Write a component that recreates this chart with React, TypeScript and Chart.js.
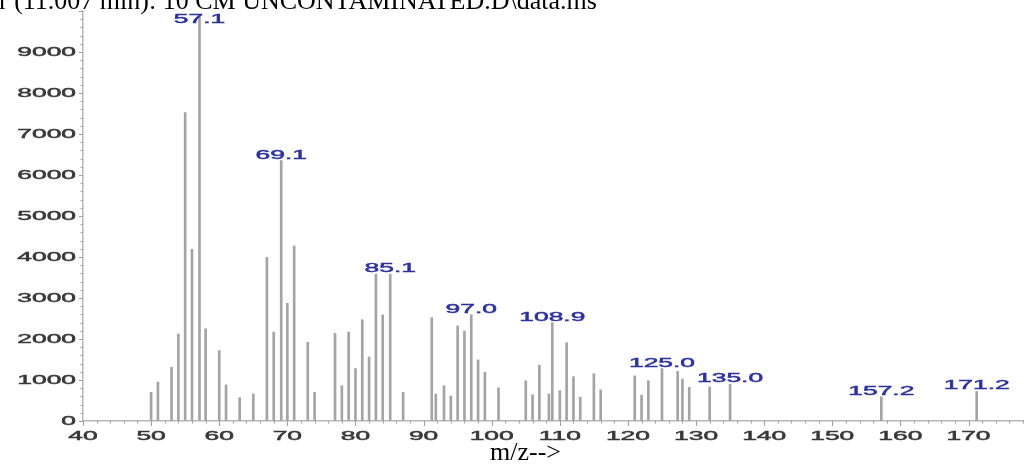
import React, { useEffect, useRef } from "react";
import { Chart, registerables } from "chart.js";

Chart.register(...registerables);

// Mass spectrum: ion m/z and abundance
const mzValues = [
  50, 51, 53, 54, 55, 56, 57.1, 58, 60, 61, 63, 65, 67, 68, 69.1, 70, 71, 73, 74,
  77, 78, 79, 80, 81, 82, 83, 84, 85.1, 87, 91.2, 91.8, 93, 94, 95, 96, 97.0, 98, 99,
  101, 105, 106, 107, 108.4, 108.9, 110, 111, 112, 113, 115, 116, 121, 122, 123,
  125.0, 127.3, 128, 129, 132, 135.0, 157.2, 171.2,
];
const abundances = [
  700, 950, 1310, 2120, 7520, 4190, 9850, 2250, 1720, 880, 570, 660, 3990, 2170, 6350, 2870, 4270, 1920, 700,
  2140, 860, 2170, 1280, 2470, 1560, 3580, 2590, 3580, 700, 2520, 660, 860, 610, 2320, 2190, 2590, 1490, 1190,
  810, 980, 640, 1360, 660, 2400, 740, 1910, 1080, 580, 1150, 760, 1100, 630, 980,
  1280, 1210, 1020, 820, 830, 900, 590, 720,
];
// Peaks annotated with their m/z
const labeledPeaks = [57.1, 69.1, 85.1, 97.0, 108.9, 125.0, 135.0, 157.2, 171.2];

const xTickLabels = ["40", "50", "60", "70", "80", "90", "100", "110", "120", "130", "140", "150", "160", "170"];
const yTickLabels = ["0", "1000", "2000", "3000", "4000", "5000", "6000", "7000", "8000", "9000"];

const headerText = "r (11.007 min): 10 CM UNCONTAMINATED.D\\data.ms";
const xAxisTitle = "m/z-->";

const TICK_FONT = "12px 'Liberation Sans', Arial, sans-serif";
const STRETCH = 2.2;

// Wide, slightly heavy label text
function stretchedText(ctx: CanvasRenderingContext2D, text: string, x: number, y: number, align: CanvasTextAlign) {
  ctx.save();
  ctx.translate(x, y);
  ctx.scale(STRETCH, 1);
  ctx.textAlign = align;
  ctx.textBaseline = "alphabetic";
  ctx.fillText(text, 0, 0);
  ctx.lineWidth = 0.45;
  ctx.strokeStyle = ctx.fillStyle as string;
  ctx.strokeText(text, 0, 0);
  ctx.restore();
}

const spectrumDecor = {
  id: "spectrumDecor",
  afterDraw(chart: any) {
    const { ctx, chartArea, scales } = chart;
    const xs = scales.x;
    const ys = scales.y;
    ctx.save();

    // tick marks
    ctx.strokeStyle = "#a0a0a0";
    ctx.lineWidth = 1;
    ctx.beginPath();
    for (let v = xs.min; v <= xs.max + 1e-6; v += 2) {
      const px = Math.round(xs.getPixelForValue(v)) + 0.5;
      const len = v % 10 === 0 ? 5 : 2.5;
      ctx.moveTo(px, chartArea.bottom);
      ctx.lineTo(px, chartArea.bottom + len);
    }
    for (let v = ys.min; v <= ys.max + 1e-6; v += 200) {
      const py = Math.round(ys.getPixelForValue(v)) + 0.5;
      const len = v % 1000 === 0 ? 4 : 2.5;
      ctx.moveTo(chartArea.left, py);
      ctx.lineTo(chartArea.left - len, py);
    }
    ctx.stroke();

    // tick labels
    ctx.fillStyle = "#383838";
    ctx.font = TICK_FONT;
    xTickLabels.forEach((t) => {
      stretchedText(ctx, t, xs.getPixelForValue(Number(t)), chartArea.bottom + 18.5, "center");
    });
    yTickLabels.forEach((t) => {
      stretchedText(ctx, t, chartArea.left - 7, ys.getPixelForValue(Number(t)) + 4.3, "right");
    });

    // peak annotations
    const meta = chart.getDatasetMeta(0);
    ctx.fillStyle = "#2e3399";
    mzValues.forEach((m, i) => {
      if (!labeledPeaks.includes(m)) return;
      const el = meta.data[i];
      const baseline = Math.max(el.y - 2, chartArea.top + 12);
      stretchedText(ctx, m.toFixed(1), el.x, baseline, "center");
    });

    // header and axis title
    ctx.fillStyle = "#000";
    ctx.font = "26px 'Liberation Serif', 'Times New Roman', serif";
    ctx.textAlign = "left";
    ctx.textBaseline = "alphabetic";
    ctx.fillText(headerText, -1, 8.5);
    ctx.fillText(xAxisTitle, 490, 460);

    ctx.restore();
  },
};

export default function App() {
  const canvasRef = useRef<HTMLCanvasElement | null>(null);

  useEffect(() => {
    const canvas = canvasRef.current;
    if (!canvas) return;
    const points = mzValues.map((m, i) => ({ x: m, y: abundances[i] }));
    const chart = new Chart(canvas, {
      type: "bar",
      data: {
        datasets: [
          {
            data: points as any,
            backgroundColor: "#a4a4a4",
            borderWidth: 0,
            barThickness: 2,
          },
        ],
      },
      options: {
        animation: false,
        responsive: false,
        layout: { padding: { top: 11, right: 12, left: 0, bottom: 0 } },
        plugins: { legend: { display: false }, tooltip: { enabled: false }, title: { display: false } },
        scales: {
          x: {
            type: "linear",
            min: 40,
            max: 178,
            offset: false,
            grid: { display: true, drawOnChartArea: false, drawTicks: false, offset: false },
            border: { display: true, color: "#b8b8b8", width: 1.5 },
            ticks: { display: false },
            afterFit: (s: any) => {
              s.height = 45;
            },
          },
          y: {
            min: 0,
            max: 10000,
            grid: { display: true, drawOnChartArea: false, drawTicks: false },
            border: { display: true, color: "#b8b8b8", width: 1.5 },
            ticks: { display: false },
            afterFit: (s: any) => {
              s.width = 83;
            },
          },
        },
      },
      plugins: [spectrumDecor],
    });
    return () => chart.destroy();
  }, []);

  return (
    <div style={{ position: "fixed", left: 0, top: 0, width: 1035, height: 466, background: "#fff" }}>
      <canvas ref={canvasRef} width={1035} height={466} />
    </div>
  );
}
